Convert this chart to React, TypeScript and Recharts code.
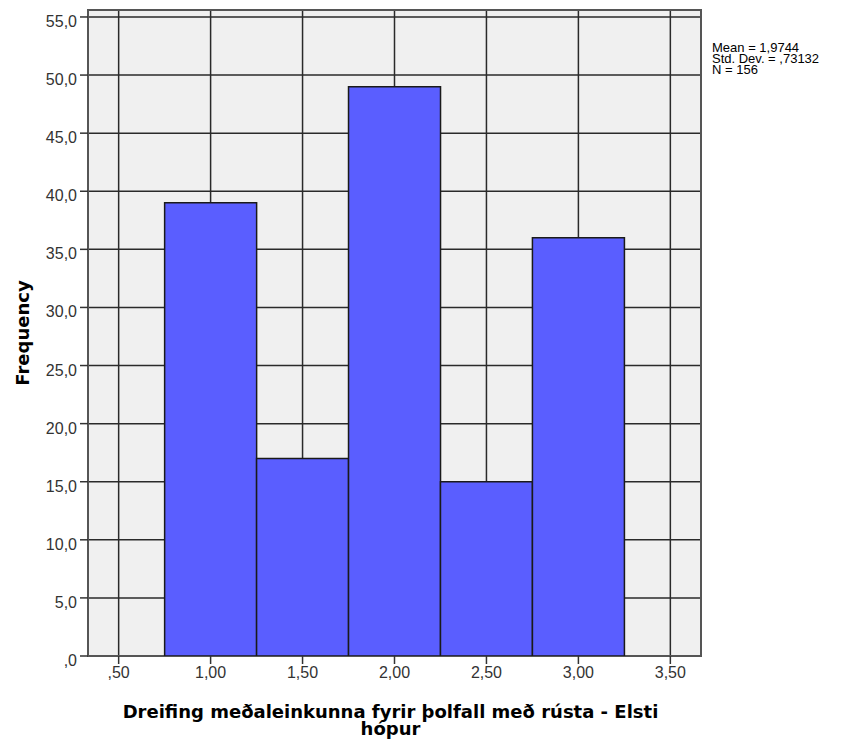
import React from 'react';
import {
  ComposedChart,
  Bar,
  XAxis,
  YAxis,
  CartesianGrid,
  ReferenceArea,
  Label,
} from 'recharts';

// bin midpoints (bin width 0,5) and frequencies
const binMids = [1.0, 1.5, 2.0, 2.5, 3.0];
const frequencies = [39, 17, 49, 15, 36];

const xTicks = [0.5, 1.0, 1.5, 2.0, 2.5, 3.0, 3.5];
const yTicks = [0, 5, 10, 15, 20, 25, 30, 35, 40, 45, 50, 55];
const xDomain: [number, number] = [1 / 3, 11 / 3];
const yDomain: [number, number] = [0, 55.6];

const statLines = ['Mean = 1,9744', 'Std. Dev. = ,73132', 'N = 156'];

const xTitle = ['Dreifing meðaleinkunna fyrir þolfall með rústa - Elsti', 'hópur'];
const yTitle = 'Frequency';

const data = binMids.map((mid, i) => ({ mid, count: frequencies[i] }));

// SPSS style decimal comma, leading zero dropped
const fmt = (v: number, digits: number) => {
  const s = v.toFixed(digits).replace('.', ',');
  return s.startsWith('0,') ? s.slice(1) : s;
};

const tickFont = '"Liberation Sans", Arial, sans-serif';
const titleFont = '"DejaVu Sans", Verdana, sans-serif';

const YTick = (props: any) => {
  const { x, y, payload } = props;
  return (
    <text x={x} y={y} dy={10} textAnchor="end" fontFamily={tickFont} fontSize={16} fill="#333">
      {fmt(payload.value, 1)}
    </text>
  );
};

const XTick = (props: any) => {
  const { x, y, payload } = props;
  return (
    <text x={x} y={y} dy={12} textAnchor="middle" fontFamily={tickFont} fontSize={16} fill="#333">
      {fmt(payload.value, 2)}
    </text>
  );
};

const XTitle = (props: any) => {
  const { x, y, width } = props.viewBox;
  const cx = x + width / 2 - 4;
  return (
    <text textAnchor="middle" fontFamily={titleFont} fontWeight="bold" fontSize={18} fill="#000">
      <tspan x={cx} y={y + 62}>{xTitle[0]}</tspan>
      <tspan x={cx} y={y + 79}>{xTitle[1]}</tspan>
    </text>
  );
};

const YTitle = () => (
  <text
    x={0}
    y={0}
    transform="translate(29, 333) rotate(-90)"
    textAnchor="middle"
    fontFamily={titleFont}
    fontWeight="bold"
    fontSize={18}
    fill="#000"
  >
    {yTitle}
  </text>
);

export default function App() {
  return (
    <div style={{ position: 'absolute', left: 0, top: 0, width: 850, height: 744, background: '#fff' }}>
      <ComposedChart
        width={850}
        height={744}
        data={data}
        margin={{ top: 10, right: 149, bottom: 0, left: 0 }}
        barCategoryGap={0}
        barGap={0}
      >
        <CartesianGrid fill="#f0f0f0" stroke="#2a2a2a" strokeWidth={1.5} />
        <XAxis
          dataKey="mid"
          type="number"
          domain={xDomain}
          ticks={xTicks}
          allowDataOverflow
          height={88}
          tickSize={8}
          tickLine={{ stroke: '#333', strokeWidth: 1.5 }}
          axisLine={false}
          tick={<XTick />}
        >
          <Label content={<XTitle />} />
        </XAxis>
        <YAxis
          type="number"
          domain={yDomain}
          ticks={yTicks}
          allowDataOverflow
          width={88}
          tickSize={8}
          tickMargin={3}
          tickLine={{ stroke: '#333', strokeWidth: 1.5 }}
          axisLine={false}
          tick={<YTick />}
        >
          <Label content={<YTitle />} />
        </YAxis>
        <Bar
          dataKey="count"
          fill="#5a5eff"
          stroke="#1a1a1a"
          strokeWidth={1.5}
          isAnimationActive={false}
        />
        <ReferenceArea
          x1={xDomain[0]}
          x2={xDomain[1]}
          y1={yDomain[0]}
          y2={yDomain[1]}
          fill="none"
          stroke="#555"
          strokeWidth={2}
          ifOverflow="visible"
        />
      </ComposedChart>
      <svg width={850} height={744} style={{ position: 'absolute', left: 0, top: 0, pointerEvents: 'none' }}>
        {statLines.map((line, i) => (
          <text key={line} x={712} y={52 + i * 11} fontFamily={tickFont} fontSize={13} fill="#000">
            {line}
          </text>
        ))}
      </svg>
    </div>
  );
}
